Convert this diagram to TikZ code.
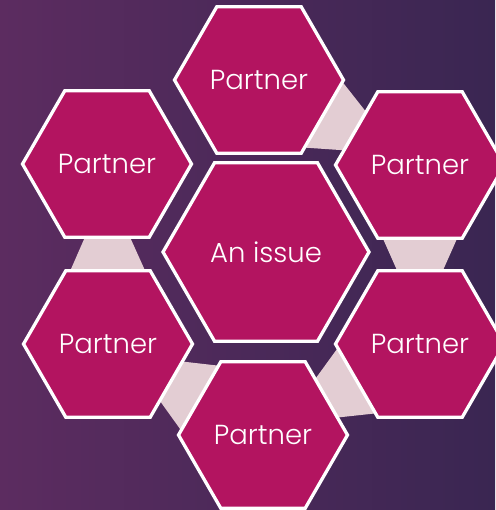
\documentclass[tikz,border=0pt]{standalone}
\usepackage{fontspec}
\setmainfont{Poppins}[UprightFont=* Light]
\usepackage{tikz}
\usetikzlibrary{shapes.geometric,calc,backgrounds}

\definecolor{bgleft}{RGB}{92,44,96}
\definecolor{bgright}{RGB}{58,38,82}
\definecolor{hexfill}{RGB}{179,20,96}
\definecolor{linkfill}{RGB}{227,205,211}

\begin{document}
\begin{tikzpicture}[
  x=1pt, y=-1pt,
  hexnode/.style={regular polygon, regular polygon sides=6, minimum size=169pt,
    inner sep=0pt, fill=hexfill, draw=white, line width=3.3pt, text=white,
    font=\fontsize{27.5}{30}\selectfont},
  middle/.style={hexnode, minimum size=206pt},
  link/.style={fill=linkfill}
]
\useasboundingbox (0,0) rectangle (495,510);

\node[middle] (issue) at (266,252) {An issue};
\node[hexnode] (top) at (259,80) {Partner};
\node[hexnode] (tr) at (420,165) {Partner};
\node[hexnode] (br) at (420,344) {Partner};
\node[hexnode] (bot) at (263,435) {Partner};
\node[hexnode] (bl) at (108,344) {Partner};
\node[hexnode] (tl) at (107,164) {Partner};

\begin{pgfonlayer}{background}
\fill[left color=bgleft, right color=bgright] (0,0) rectangle (495,510);
% links narrow towards the next partner
\foreach \a/\b in {top/tr, tr/br, br/bot, bot/bl, bl/tl}{
  \pgfmathanglebetweenpoints{\pgfpointanchor{\a}{center}}{\pgfpointanchor{\b}{center}}
  \let\linkangle\pgfmathresult
  \fill[link, shift={($(\a)!0.5!(\b)$)}, rotate=\linkangle]
    (-60,-56.6) -- (60,-3.4) -- (60,3.4) -- (-60,56.6) -- cycle;
}
\end{pgfonlayer}
\end{tikzpicture}
\end{document}
